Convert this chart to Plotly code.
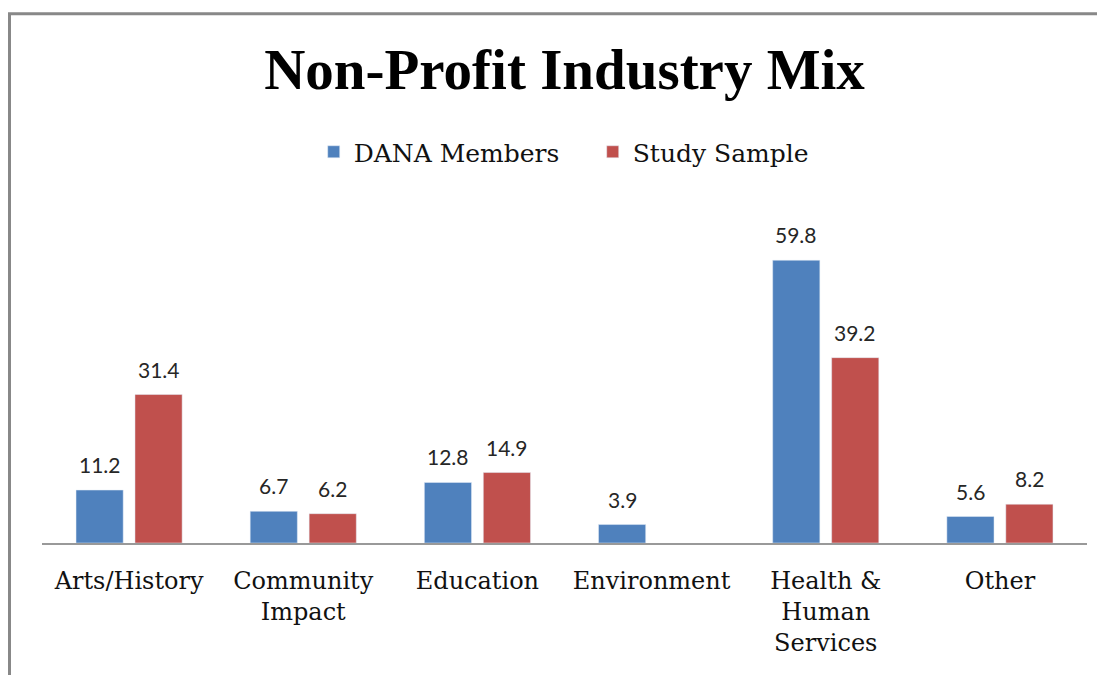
import plotly.graph_objects as go

categories = ["Arts/History", "Community<br>Impact", "Education", "Environment",
              "Health &<br>Human<br>Services", "Other"]
dana = [11.2, 6.7, 12.8, 3.9, 59.8, 5.6]
study = [31.4, 6.2, 14.9, None, 39.2, 8.2]
series_names = ["DANA Members", "Study Sample"]
colors = ["#4F81BD", "#C0504D"]

W, H = 1097, 667
L, R, T, B = 34, 18, 204, 132
SERIF = "DejaVu Serif"
TITLE_FONT = "Liberation Serif"
LABEL_FONT = "Lato"

ph = H - T - B
pw = W - L - R
BARGAP, GROUPGAP = 0.323, 0.2
slot = pw / len(categories) * (1 - BARGAP) / 2

fig = go.Figure()
for name, vals, col in zip(series_names, [dana, study], colors):
    fig.add_trace(go.Bar(name=name, x=categories, y=vals, marker_color=col))

annotations = []
for i, vals in enumerate([dana, study]):
    shift = (i - 0.5) * slot
    for c, v in zip(categories, vals):
        if v is None:
            continue
        annotations.append(dict(x=c, y=v, xref="x", yref="y", text="%.1f" % v,
                                showarrow=False, xanchor="center", yanchor="bottom",
                                xshift=shift, yshift=11,
                                font=dict(family=LABEL_FONT, size=21, color="#262626")))

fig.update_layout(
    width=W, height=H,
    margin=dict(l=L, r=R, t=T, b=B),
    paper_bgcolor="white", plot_bgcolor="white",
    barmode="group", bargap=BARGAP, bargroupgap=GROUPGAP,
    title=dict(text="<b>Non-Profit Industry Mix</b>", x=0.5, xref="paper",
               y=1 - 61 / H, yref="container", xanchor="center", yanchor="middle",
               font=dict(family=TITLE_FONT, size=57, color="black")),
    legend=dict(orientation="h", x=0.527, xanchor="center", y=1 + (T - 144) / ph, yanchor="middle",
                font=dict(family=SERIF, size=25, color="#111"), traceorder="normal",
                itemwidth=30, entrywidth=234, entrywidthmode="pixels"),
    xaxis=dict(showline=True, linecolor="#999", linewidth=2,
               ticks="outside", ticklen=15, tickcolor="rgba(0,0,0,0)",
               tickfont=dict(family=SERIF, size=24, color="#111"), showgrid=False),
    yaxis=dict(range=[0, 70], visible=False, showgrid=False),
    annotations=annotations,
    shapes=[dict(type="rect", xref="paper", yref="paper",
                 x0=(1.5 - L) / pw, x1=1.2, y0=-1.0, y1=1 + (T - 5.7) / ph,
                 line=dict(color="#888", width=3), layer="below")],
)
fig.write_html("out.html")
